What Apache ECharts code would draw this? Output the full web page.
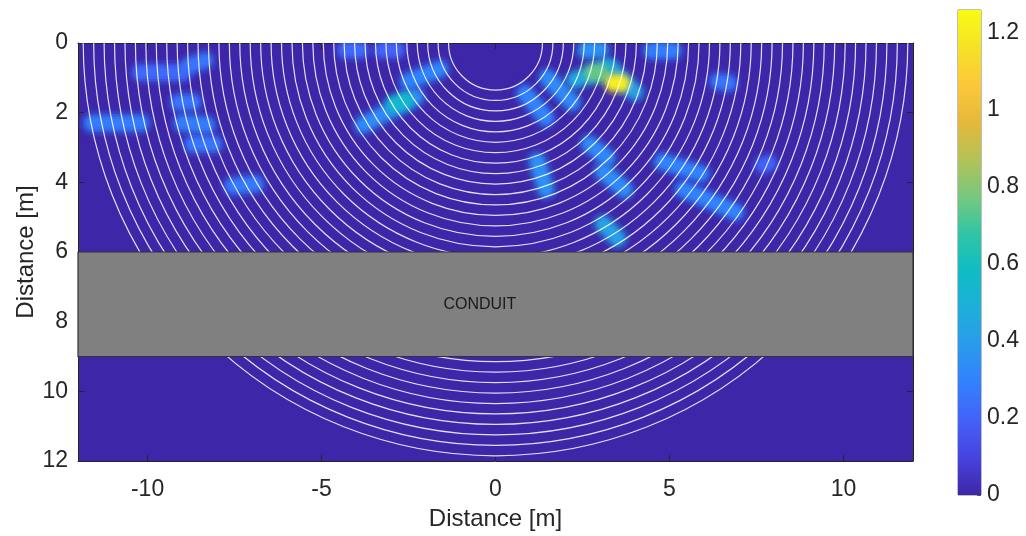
<!DOCTYPE html>
<html><head><meta charset="utf-8">
<script src="https://cdn.jsdelivr.net/npm/echarts@6/dist/echarts.min.js"></script>
<style>html,body{margin:0;padding:0;background:#fff}#c{width:1026px;height:536px}</style>
</head><body><div id="c"></div>
<script>
// ---- data ----
const xTicks = [-10, -5, 0, 5, 10];
const yTicks = [0, 2, 4, 6, 8, 10, 12];
const cbTicks = [0, 0.2, 0.4, 0.6, 0.8, 1, 1.2];
const cbMax = 1.26;
const arcRadii = [1.35,1.65,1.95,2.25,2.55,2.85,3.15,3.45,3.75,4.05,4.35,4.65,4.95,5.25,5.55,5.85,
  6.15,6.45,6.75,7.05,7.35,7.65,7.95,8.25,8.55,8.85,9.15,9.45,9.75,10.05,10.35,10.65,10.95,11.25,11.55,11.85];
// intensity streaks: [x1, y1, x2, y2, value]
const streaksLeft = [
  [-10.2,0.85,-9.0,0.85,0.22],
  [-8.8,0.65,-8.35,0.5,0.25],
  [-9.1,1.7,-8.7,1.7,0.25],
  [-11.6,2.3,-10.2,2.3,0.28],
  [-9.0,2.3,-8.3,2.35,0.28],
  [-8.7,2.9,-8.1,2.9,0.26],
  [-7.55,4.1,-6.9,4.05,0.27],
  [-4.3,0.2,-3.9,0.2,0.22],
  [-3.25,0.2,-2.85,0.2,0.2],
  [-3.8,2.35,-2.3,1.55,0.32],
  [-2.9,1.75,-2.6,1.65,0.55],
  [-2.5,1.1,-1.6,0.75,0.3]
];
const streaksRight = [
  [0.85,1.45,1.45,2.15,0.3],
  [1.5,1.0,2.2,1.7,0.32],
  [2.6,0.2,3.0,0.2,0.35],
  [2.3,1.05,3.3,0.75,0.45],
  [3.2,0.7,4.0,1.4,0.4],
  [2.8,0.85,3.0,0.85,0.75],
  [3.4,1.15,3.6,1.15,1.2],
  [4.5,0.22,5.1,0.22,0.28],
  [6.4,1.1,6.7,1.15,0.25],
  [2.7,2.9,3.2,3.3,0.32],
  [3.1,3.7,3.7,4.2,0.33],
  [1.2,3.4,1.45,4.2,0.35],
  [3.1,5.2,3.5,5.6,0.42],
  [4.8,3.4,5.9,3.75,0.3],
  [5.4,4.2,6.9,4.85,0.3],
  [7.7,3.5,7.85,3.45,0.2]
];
const conduit = [[-12, 6, 12, 9]];
const conduitLabel = 'CONDUIT';
const axisTitle = 'Distance [m]';
const parula = ['#3e26a8','#4743e0','#4461f8','#3281fe','#2a9aed','#1eafd9','#0fbcc5',
  '#30c5a5','#77c87f','#b4c256','#e6b83b','#fcc83a','#f5e226','#f9fb15'];

// ---- chart ----
const txt = '#262626';
const font = 'Liberation Sans, Arial, sans-serif';
const streaks = streaksLeft.concat(streaksRight).slice().sort((a, b) => a[4] - b[4]);
const chart = echarts.init(document.getElementById('c'), null, {renderer: 'canvas'});

function axisCommon(extra) {
  return Object.assign({
    type: 'value',
    axisLine: {show: true, onZero: false, lineStyle: {color: txt, width: 1}},
    splitLine: {show: false},
    axisTick: {show: true, inside: true, length: 6, lineStyle: {color: txt}},
    axisLabel: {color: txt, fontSize: 23, fontFamily: font},
    nameMoveOverlap: false,
    nameTextStyle: {color: txt, fontSize: 24, fontFamily: font}
  }, extra);
}

const option = {
  animation: false,
  backgroundColor: '#ffffff',
  grid: [
    {left: 78, top: 43, width: 835, height: 418, show: true, backgroundColor: parula[0], borderWidth: 0},
    {left: 958, top: 10, width: 23, height: 485, show: true, borderColor: '#7f7f7f', borderWidth: 1}
  ],
  visualMap: {
    show: false, type: 'continuous', min: 0, max: cbMax, dimension: 4, seriesIndex: 0,
    inRange: {color: parula}
  },
  xAxis: [
    axisCommon({gridIndex: 0, min: -12, max: 12, position: 'bottom',
      axisTick: {show: true, inside: true, length: 6, lineStyle: {color: txt}, customValues: xTicks},
      axisLabel: {color: txt, fontSize: 23, fontFamily: font, margin: 17, customValues: xTicks},
      name: axisTitle, nameLocation: 'middle', nameGap: 46}),
    axisCommon({gridIndex: 0, min: -12, max: 12, position: 'top',
      axisTick: {show: true, inside: true, length: 6, lineStyle: {color: txt}, customValues: xTicks},
      axisLabel: {show: false}}),
    {type: 'category', gridIndex: 1, data: [''], show: false}
  ],
  yAxis: [
    axisCommon({gridIndex: 0, min: 0, max: 12, interval: 2, inverse: true, position: 'left',
      axisLabel: {color: txt, fontSize: 23, fontFamily: font, margin: 10},
      name: axisTitle, nameLocation: 'middle', nameGap: 40, nameRotate: 90}),
    axisCommon({gridIndex: 0, min: 0, max: 12, interval: 2, inverse: true, position: 'right',
      axisLabel: {show: false}}),
    axisCommon({gridIndex: 1, min: 0, max: cbMax, position: 'right',
      axisLine: {show: false},
      axisTick: {show: true, inside: true, length: 4, lineStyle: {color: '#555'}, customValues: cbTicks},
      axisLabel: {color: txt, fontSize: 23, fontFamily: font, margin: 6, customValues: cbTicks}})
  ],
  series: [
    {
      type: 'custom', xAxisIndex: 0, yAxisIndex: 0, clip: true, z: 2,
      data: streaks,
      encode: {x: [0, 2], y: [1, 3]},
      renderItem(params, api) {
        const p1 = api.coord([api.value(0), api.value(1)]);
        const p2 = api.coord([api.value(2), api.value(3)]);
        const color = api.visual('color');
        const w = api.size([0.5, 0])[0];
        const layers = [[1.45, 0.14, 8], [1.05, 0.28, 6], [0.75, 0.5, 5], [0.42, 0.8, 3]];
        return {
          type: 'group',
          children: layers.map(([k, o, b]) => ({
            type: 'line',
            shape: {x1: p1[0], y1: p1[1], x2: p2[0], y2: p2[1]},
            style: {stroke: color, lineWidth: w * k, lineCap: 'round', opacity: o, fill: null,
              shadowBlur: b, shadowColor: color}
          }))
        };
      }
    },
    {
      type: 'custom', xAxisIndex: 0, yAxisIndex: 0, clip: true, z: 3,
      data: arcRadii.map(r => [r]),
      renderItem(params, api) {
        const r = api.value(0);
        const c = api.coord([0, 0]);
        const rx = Math.abs(api.size([r, 0])[0]);
        const ry = Math.abs(api.size([0, r])[1]);
        return {
          type: 'arc',
          x: c[0], y: c[1], scaleY: ry / rx,
          shape: {cx: 0, cy: 0, r: rx, startAngle: 0, endAngle: Math.PI, clockwise: true},
          style: {stroke: 'rgba(255,255,255,0.85)', lineWidth: 1.2, fill: null, strokeNoScale: true}
        };
      }
    },
    {
      type: 'custom', xAxisIndex: 0, yAxisIndex: 0, clip: false, z: 4,
      data: conduit,
      renderItem(params, api) {
        const a = api.coord([api.value(0), api.value(1)]);
        const b = api.coord([api.value(2), api.value(3)]);
        const t = api.coord([-0.45, (api.value(1) + api.value(3)) / 2]);
        return {
          type: 'group',
          children: [
            {type: 'rect', shape: {x: Math.min(a[0], b[0]), y: Math.min(a[1], b[1]),
              width: Math.abs(b[0] - a[0]), height: Math.abs(b[1] - a[1])},
              style: {fill: '#808080', stroke: '#333333', lineWidth: 1.2}},
            {type: 'text', x: t[0], y: t[1],
              style: {text: conduitLabel, fill: '#1a1a1a', fontSize: 16, fontFamily: font,
                align: 'center', verticalAlign: 'middle'}}
          ]
        };
      }
    },
    {
      type: 'bar', xAxisIndex: 2, yAxisIndex: 2, barWidth: '100%', silent: true,
      data: [cbMax],
      itemStyle: {
        color: new echarts.graphic.LinearGradient(0, 1, 0, 0,
          parula.map((c, i) => ({offset: i / (parula.length - 1), color: c})))
      }
    }
  ]
};
chart.setOption(option);
</script>
</body></html>
